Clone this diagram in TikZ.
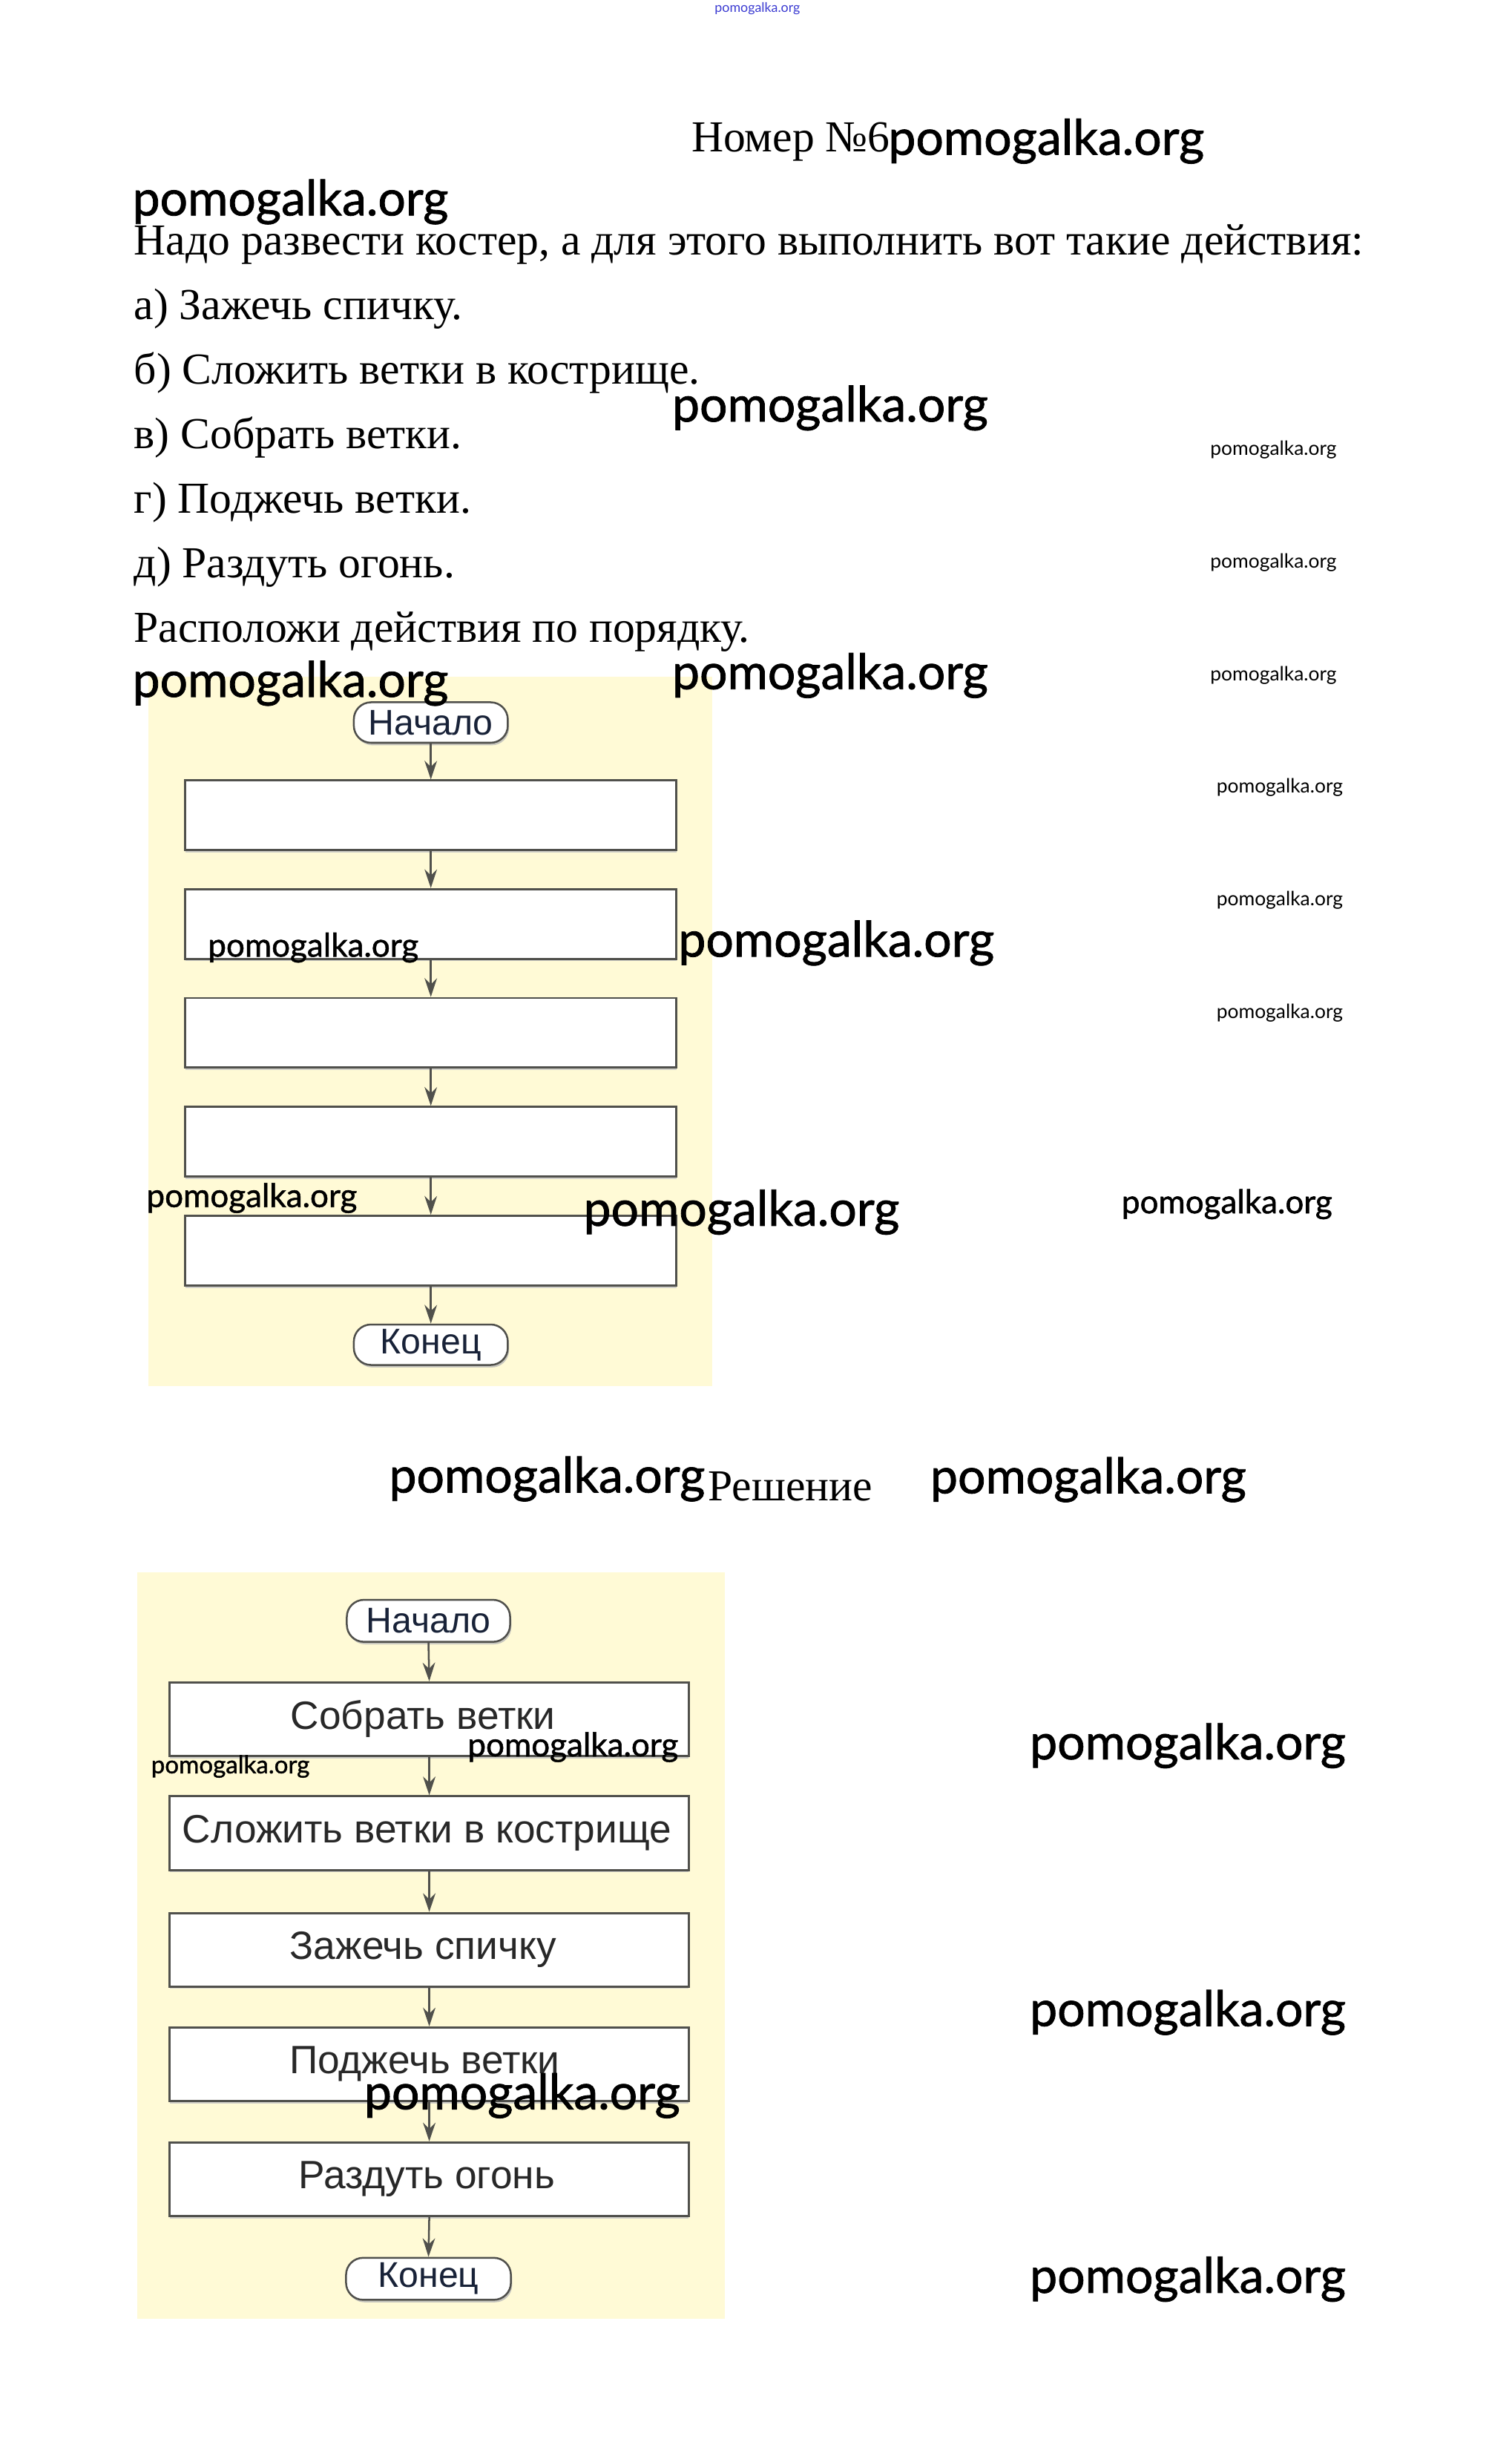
\documentclass[tikz,border=0pt]{standalone}
\usepackage{fontspec}
\setmainfont{Liberation Serif}
\newfontfamily\latofont{Lato}
\newfontfamily\latoheavy[FakeBold=1.2]{Lato}
\newfontfamily\arialfont{Liberation Sans}
\usetikzlibrary{arrows.meta,shadows}
\definecolor{bgyellow}{RGB}{255,250,214}
\definecolor{boxgray}{RGB}{80,80,76}
\definecolor{termtext}{RGB}{24,34,56}
\definecolor{boxtext}{RGB}{40,40,40}
\definecolor{wmblue}{RGB}{60,60,210}
\tikzset{
  sertext/.style={anchor=base west, inner sep=0pt, font=\fontsize{28.45}{28.45}\selectfont},
  wmL/.style={anchor=base west, inner sep=0pt, font=\latoheavy\fontsize{31.5}{31.5}\selectfont},
  wmM/.style={anchor=base west, inner sep=0pt, font=\latoheavy\fontsize{21}{21}\selectfont},
  wmS/.style={anchor=base west, inner sep=0pt, font=\latoheavy\fontsize{15.8}{15.8}\selectfont},
  wmT/.style={anchor=base west, inner sep=0pt, font=\latofont\fontsize{12.6}{12.6}\selectfont},
  wmX/.style={anchor=base, inner sep=0pt, text=wmblue, font=\latofont\fontsize{8.5}{8.5}\selectfont},
  bgpanel/.style={fill=bgyellow, draw=none},
  term/.style={draw=boxgray, fill=white, line width=1.2pt, rounded corners=11pt,
    inner sep=0pt, font=\arialfont\fontsize{23}{23}\selectfont, text=termtext,
    drop shadow={shadow xshift=0.8pt, shadow yshift=-1.6pt, fill=gray!55, opacity=0.8}},
  proc/.style={draw=boxgray, fill=white, line width=1.4pt, inner sep=0pt,
    font=\arialfont\fontsize{25.4}{25.4}\selectfont, text=boxtext,
    drop shadow={shadow xshift=0pt, shadow yshift=-1.5pt, fill=gray!45, opacity=0.8}},
  arr/.style={draw=boxgray, line width=1.2pt, -{Stealth[length=12pt,width=8pt]}},
}
\begin{document}
\begin{tikzpicture}[x=1pt,y=-1pt]
\useasboundingbox (0,0) rectangle (972,1568);
\fill[white] (0,0) rectangle (972,1568);

% top tiny watermark
\node[wmX] (wtop) at (487,8) {pomogalka.org};

% title
\node[sertext] (title) at (444.5,97.5) {Номер №6};
\node[wmL] (w1) at (571,99.5) {pomogalka.org};
\node[wmL] (w2) at (85,138.5) {pomogalka.org};

% task text
\node[sertext] (t0) at (86,164) {Надо развести костер, а для этого выполнить вот такие действия:};
\node[sertext] (t1) at (86,205.5) {а) Зажечь спичку.};
\node[sertext] (t2) at (86,247) {б) Сложить ветки в кострище.};
\node[sertext] (t3) at (86,288.5) {в) Собрать ветки.};
\node[sertext] (t4) at (86,330) {г) Поджечь ветки.};
\node[sertext] (t5) at (86,371.5) {д) Раздуть огонь.};
\node[sertext] (t6) at (86,413) {Расположи действия по порядку.};

% question flowchart
\fill[bgpanel] (95.4,435) rectangle (458,891);
\node[term, minimum width=99pt, minimum height=26pt] (qs) at (277,464.5) {Начало};
\node[proc, minimum width=315.7pt, minimum height=44.8pt] (q1) at (277,524.2) {};
\node[proc, minimum width=315.7pt, minimum height=44.8pt] (q2) at (277,594) {};
\node[proc, minimum width=315.7pt, minimum height=44.8pt] (q3) at (277,664) {};
\node[proc, minimum width=315.7pt, minimum height=44.8pt] (q4) at (277,734) {};
\node[proc, minimum width=315.7pt, minimum height=44.8pt] (q5) at (277,804) {};
\node[term, minimum width=99pt, minimum height=26pt] (qe) at (277,864.5) {Конец};
\draw[arr] (qs.south) -- (q1.north);
\draw[arr] (q1.south) -- (q2.north);
\draw[arr] (q2.south) -- (q3.north);
\draw[arr] (q3.south) -- (q4.north);
\draw[arr] (q4.south) -- (q5.north);
\draw[arr] (q5.south) -- (qe.north);

% answer heading
\node[sertext] (sol) at (455,965) {Решение};

% answer flowchart
\fill[bgpanel] (88.3,1011) rectangle (466,1490.5);
\node[term, minimum width=105pt, minimum height=27pt] (as) at (275.5,1042) {Начало};
\node[proc, minimum width=333.7pt, minimum height=47.3pt] (a1) at (276,1105.2) {\hspace*{-8pt}Собрать ветки};
\node[proc, minimum width=333.7pt, minimum height=47.3pt] (a2) at (276,1178.5) {\hspace*{-3pt}Сложить ветки в кострище};
\node[proc, minimum width=333.7pt, minimum height=47.3pt] (a3) at (276,1253.5) {\hspace*{-8pt}Зажечь спичку};
\node[proc, minimum width=333.7pt, minimum height=47.3pt] (a4) at (276,1327) {\hspace*{-6pt}Поджечь ветки};
\node[proc, minimum width=333.7pt, minimum height=47.3pt] (a5) at (276,1401) {\hspace*{-3pt}Раздуть огонь};
\node[term, minimum width=106pt, minimum height=27pt] (ae) at (275.5,1465) {Конец};
\draw[arr] (as.south) -- (a1.north);
\draw[arr] (a1.south) -- (a2.north);
\draw[arr] (a2.south) -- (a3.north);
\draw[arr] (a3.south) -- (a4.north);
\draw[arr] (a4.south) -- (a5.north);
\draw[arr] (a5.south) -- (ae.north);

% watermarks
\node[wmL] (w3) at (432,271) {pomogalka.org};
\node[wmL] (w4) at (85,448) {pomogalka.org};
\node[wmL] (w5) at (432,443) {pomogalka.org};
\node[wmL] (w6) at (436,615) {pomogalka.org};
\node[wmL] (w7) at (375,788) {pomogalka.org};
\node[wmL] (w8) at (250,959.5) {pomogalka.org};
\node[wmL] (w9) at (598,960) {pomogalka.org};
\node[wmL] (w10) at (662,1131) {pomogalka.org};
\node[wmL] (w11) at (662,1302.5) {pomogalka.org};
\node[wmL] (w12) at (662,1474) {pomogalka.org};
\node[wmL] (w13) at (234,1356) {pomogalka.org};

\node[wmM] (m1) at (133.5,615) {pomogalka.org};
\node[wmM] (m2) at (94,776) {pomogalka.org};
\node[wmM] (m3) at (721,780) {pomogalka.org};
\node[wmM] (m4) at (300.5,1129) {pomogalka.org};
\node[wmS] (s1) at (97,1140) {pomogalka.org};

\node[wmT] (r1) at (778,292.8) {pomogalka.org};
\node[wmT] (r2) at (778,365.4) {pomogalka.org};
\node[wmT] (r3) at (778,437.6) {pomogalka.org};
\node[wmT] (r4) at (782,509.8) {pomogalka.org};
\node[wmT] (r5) at (782,582) {pomogalka.org};
\node[wmT] (r6) at (782,654.7) {pomogalka.org};
\end{tikzpicture}
\end{document}
